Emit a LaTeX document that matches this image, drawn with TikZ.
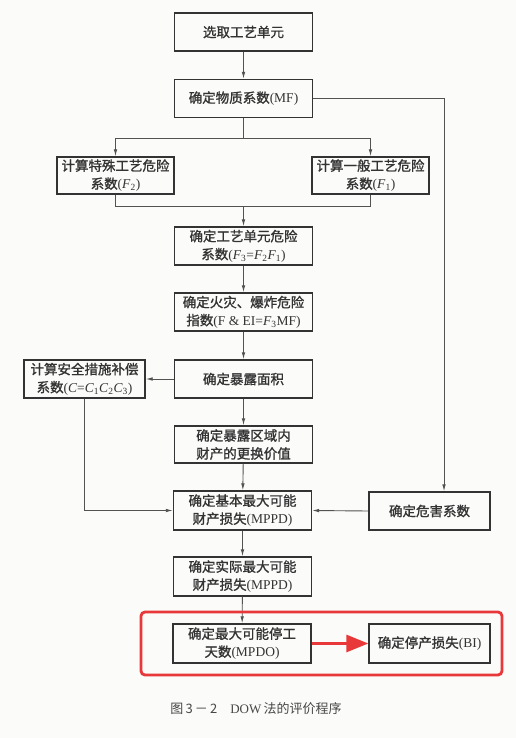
\documentclass[tikz,border=0pt]{standalone}
\usepackage{fontspec}
\setmainfont{Liberation Serif}
\newfontfamily\cjk[FakeBold=1.2]{Noto Sans CJK SC}
\newfontfamily\cjkcap{Noto Sans CJK SC}
\usetikzlibrary{arrows.meta}
\definecolor{ink}{HTML}{333333}
\definecolor{paper}{HTML}{FBFBF9}
\definecolor{redmark}{HTML}{E8383A}
\newcommand\Fx[2]{\textit{#1}\textsubscript{#2}}
\begin{document}
\begin{tikzpicture}[x=1pt,y=-1pt,
  box/.style={draw=ink,line width=1.4pt,rectangle,inner sep=0pt,align=center,
    text=ink,font=\fontsize{13.5}{18}\selectfont},
  wide/.style={box,minimum width=138pt,minimum height=38pt},
  side/.style={box,minimum width=120pt,minimum height=38pt},
  conn/.style={draw=ink!85,line width=0.9pt},
  arr/.style={conn,-{Latex[length=7pt,width=3.6pt]}}]
\fill[paper] (0,0) rectangle (516,738);
\useasboundingbox (0,0) rectangle (516,738);
\node[wide] (b1) at (243.5,32) {\cjk 选取工艺单元};
\node[wide] (b2) at (243.5,98.5) {{\cjk 确定物质系数}(MF)};
\node[box,minimum width=117pt,minimum height=37pt] (f2) at (115.5,175.5) {{\cjk 计算特殊工艺危险}\\{\cjk 系数}(\Fx{F}{2})};
\node[box,minimum width=117pt,minimum height=37pt] (f1) at (370.5,175.5) {{\cjk 计算一般工艺危险}\\{\cjk 系数}(\Fx{F}{1})};
\node[wide] (f3) at (243.5,246) {{\cjk 确定工艺单元危险}\\{\cjk 系数}(\Fx{F}{3}=\Fx{F}{2}\Fx{F}{1})};
\node[wide] (fei) at (243.5,312) {{\cjk 确定火灾、爆炸危险}\\{\cjk 指数}(F \& EI=\Fx{F}{3}MF)};
\node[wide] (exp) at (243.5,379) {\cjk 确定暴露面积};
\node[side,minimum width=121pt] (cc) at (84.5,379) {{\cjk 计算安全措施补偿}\\{\cjk 系数}(\textit{C}=\Fx{C}{1}\Fx{C}{2}\Fx{C}{3})};
\node[wide,minimum height=37pt] (rv) at (243.5,444.5) {{\cjk 确定暴露区域内}\\{\cjk 财产的更换价值}};
\node[wide,minimum height=39pt] (mppd) at (242.5,510.5) {{\cjk 确定基本最大可能}\\{\cjk 财产损失}(MPPD)};
\node[side,minimum width=121pt] (hz) at (429.5,511) {\cjk 确定危害系数};
\node[wide,minimum height=39pt] (ampd) at (242.5,576.5) {{\cjk 确定实际最大可能}\\{\cjk 财产损失}(MPPD)};
\node[wide,minimum height=39pt] (mpdo) at (242,643.5) {{\cjk 确定最大可能停工}\\{\cjk 天数}(MPDO)};
\node[side,minimum width=121pt,minimum height=39pt] (bi) at (429.5,643.5) {{\cjk 确定停产损失}(BI)};
% connectors
\draw[arr] (b1) -- (b2);
\coordinate (split) at (243.5,138);
\draw[conn] (b2.south) -- (split);
\draw[arr] (split) -| (f2.north);
\draw[arr] (split) -| (f1.north);
\coordinate (join) at (243.5,206);
\draw[conn] (f2.south) |- (join);
\draw[conn] (f1.south) |- (join);
\draw[arr] (join) -- (f3.north);
\draw[arr] (f3) -- (fei);
\draw[arr] (fei) -- (exp);
\draw[arr] (exp.west) -- (cc.east);
\draw[arr] (exp) -- (rv);
\draw[arr] (rv) -- (mppd);
\draw[arr] (cc.south) |- (mppd.west);
\draw[arr] (b2.east) -| ([xshift=14.5pt]hz.north);
\draw[arr] (hz.west) -- (mppd.east);
\draw[arr] (mppd) -- (ampd);
\draw[arr] (ampd) -- (mpdo);
\draw[redmark,line width=3pt,-{Triangle[length=22pt,width=17pt]}] (mpdo.east) -- (bi.west);
\node[draw=redmark,line width=2.8pt,rounded corners=4pt,minimum width=361pt,minimum height=63pt,inner sep=0pt] (hl) at (321.5,643.5) {};
\node[text=ink!90,font=\fontsize{13}{15}\selectfont] (cap) at (256,709) {{\cjkcap 图\,3\,－\,2}\quad DOW\,{\cjkcap 法的评价程序}};
\end{tikzpicture}
\end{document}
